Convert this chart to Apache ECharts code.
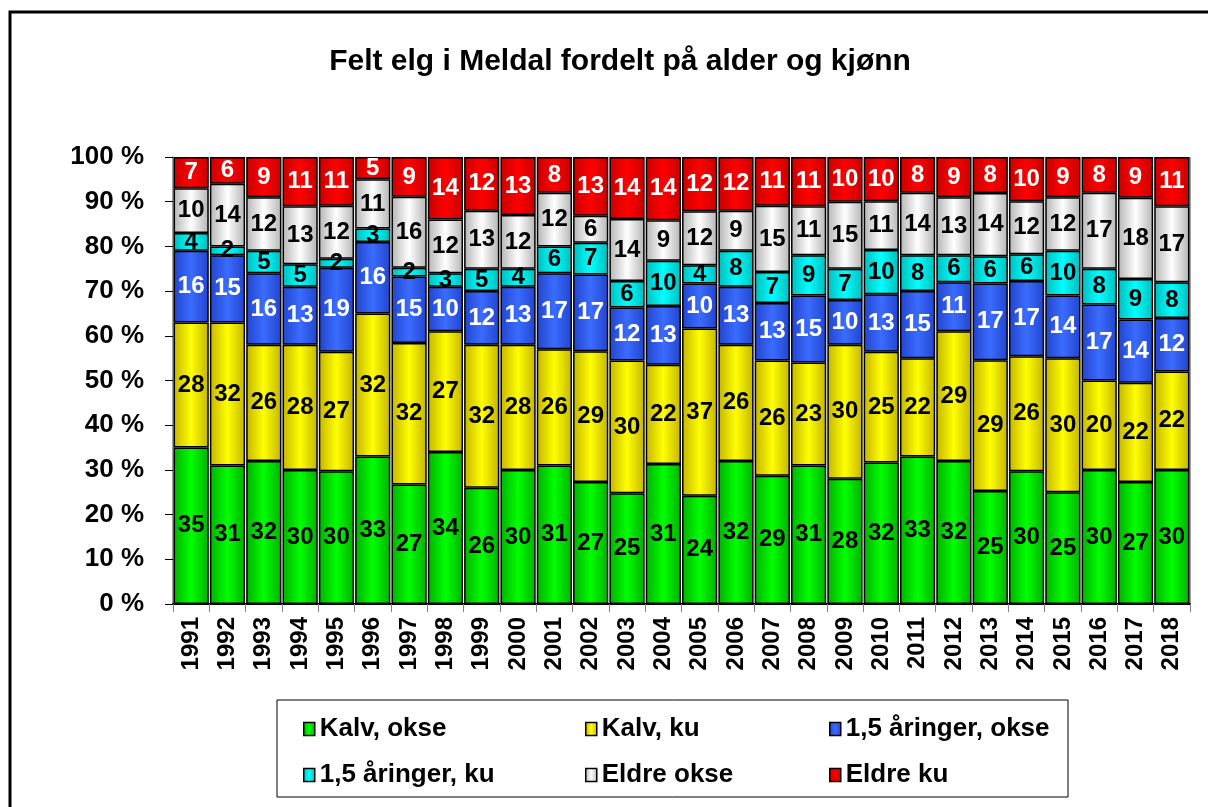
<!DOCTYPE html>
<html lang="no">
<head>
    <meta charset="utf-8"/>
    <title>Felt elg i Meldal</title>
    <script src="https://cdn.jsdelivr.net/npm/echarts@6/dist/echarts.min.js"></script>
    <style>
        html, body { margin: 0; padding: 0; background: #fff; }
        #chart { width: 1208px; height: 807px; }
    </style>
</head>
<body>
<div id="chart"></div>
<script>
    // verdier lest av figuren (prosent, avrundet)
    const years = ['1991','1992','1993','1994','1995','1996','1997','1998','1999','2000',
        '2001','2002','2003','2004','2005','2006','2007','2008','2009','2010',
        '2011','2012','2013','2014','2015','2016','2017','2018'];
    const kalvOkse  = [35,31,32,30,30,33,27,34,26,30,31,27,25,31,24,32,29,31,28,32,33,32,25,30,25,30,27,30];
    const kalvKu    = [28,32,26,28,27,32,32,27,32,28,26,29,30,22,37,26,26,23,30,25,22,29,29,26,30,20,22,22];
    const aarOkse   = [16,15,16,13,19,16,15,10,12,13,17,17,12,13,10,13,13,15,10,13,15,11,17,17,14,17,14,12];
    const aarKu     = [4,2,5,5,2,3,2,3,5,4,6,7,6,10,4,8,7,9,7,10,8,6,6,6,10,8,9,8];
    const eldreOkse = [10,14,12,13,12,11,16,12,13,12,12,6,14,9,12,9,15,11,15,11,14,13,14,12,12,17,18,17];
    const eldreKu   = [7,6,9,11,11,5,9,14,12,13,8,13,14,14,12,12,11,11,10,10,8,9,8,10,9,8,9,11];
    const yTicks = [0,10,20,30,40,50,60,70,80,90,100];

    const FONT = "'Liberation Sans', Arial, sans-serif";

    const series = [
        { name: 'Kalv, okse', data: kalvOkse, light: '#00ff00', dark: '#00b000', label: '#000' },
        { name: 'Kalv, ku', data: kalvKu, light: '#ffff00', dark: '#c4b400', label: '#000' },
        { name: '1,5 åringer, okse', data: aarOkse, light: '#3a6cff', dark: '#2244cc', label: '#fff' },
        { name: '1,5 åringer, ku', data: aarKu, light: '#00ffff', dark: '#00bcbc', label: '#000' },
        { name: 'Eldre okse', data: eldreOkse, light: '#ffffff', dark: '#b4b4b4', label: '#000' },
        { name: 'Eldre ku', data: eldreKu, light: '#ff0000', dark: '#c80000', label: '#fff' }
    ];

    // 100 % stablet: summer per år
    const totals = years.map((y, i) => series.reduce((s, d) => s + d.data[i], 0));

    function grad(light, dark) {
        return new echarts.graphic.LinearGradient(0, 0, 1, 0, [
            { offset: 0, color: dark },
            { offset: 0.5, color: light },
            { offset: 1, color: dark }
        ]);
    }

    const chart = echarts.init(document.getElementById('chart'));

    const legendBase = {
        orient: 'vertical',
        top: 711,
        itemGap: 20,
        itemWidth: 11,
        itemHeight: 13,
        icon: 'rect',
        itemStyle: { borderColor: '#000', borderWidth: 1.5 },
        textStyle: { fontFamily: FONT, fontSize: 26, fontWeight: 'bold', color: '#000' }
    };

    const option = {
        animation: false,
        backgroundColor: '#fff',
        title: {
            text: 'Felt elg i Meldal fordelt på alder og kjønn',
            left: 615,
            top: 42,
            textAlign: 'center',
            textStyle: { fontFamily: FONT, fontSize: 30, fontWeight: 'bold', color: '#000' }
        },
        legend: [
            Object.assign({ left: 298, data: [series[0].name, series[3].name] }, legendBase),
            Object.assign({ left: 580, data: [series[1].name, series[4].name] }, legendBase),
            Object.assign({ left: 824, data: [series[2].name, series[5].name] }, legendBase)
        ],
        grid: { left: 173, right: 18, top: 157, bottom: 203 },
        xAxis: {
            type: 'category',
            data: years,
            axisLine: { lineStyle: { color: '#000', width: 2 } },
            axisTick: { show: true, length: 8, lineStyle: { color: '#808080' } },
            axisLabel: {
                rotate: 90, margin: 13, color: '#000',
                fontFamily: FONT, fontSize: 24, fontWeight: 'bold'
            }
        },
        yAxis: {
            type: 'value',
            min: 0, max: 100, interval: 10,
            axisLine: { show: true, lineStyle: { color: '#808080', width: 1.5 } },
            axisTick: { show: true, length: 8, lineStyle: { color: '#000' } },
            splitLine: { show: false },
            axisLabel: {
                margin: 29, color: '#000',
                fontFamily: FONT, fontSize: 26, fontWeight: 'bold',
                formatter: v => yTicks.includes(v) ? v + ' %' : ''
            }
        },
        graphic: [
            {
                type: 'rect', silent: true, z: -1,
                shape: { x: 10, y: 12, width: 1210, height: 810 },
                style: { fill: 'none', stroke: '#000', lineWidth: 3 }
            },
            {
                type: 'rect', silent: true,
                shape: { x: 277, y: 700, width: 791, height: 97 },
                style: { fill: 'none', stroke: '#000', lineWidth: 1 }
            },
            {
                type: 'line', silent: true,
                shape: { x1: 1190, y1: 157, x2: 1190, y2: 604 },
                style: { stroke: '#808080', lineWidth: 1.5 }
            }
        ],
        series: series.map(s => ({
            name: s.name,
            type: 'bar',
            stack: 'total',
            barCategoryGap: '3%',
            data: s.data.map((v, i) => v / totals[i] * 100),
            itemStyle: {
                color: grad(s.light, s.dark),
                borderColor: '#000',
                borderWidth: 1.5
            },
            label: {
                show: true,
                position: 'inside',
                color: s.label,
                fontFamily: FONT,
                fontSize: 24,
                fontWeight: 'bold',
                formatter: p => s.data[p.dataIndex]
            }
        }))
    };

    chart.setOption(option);
</script>
</body>
</html>
